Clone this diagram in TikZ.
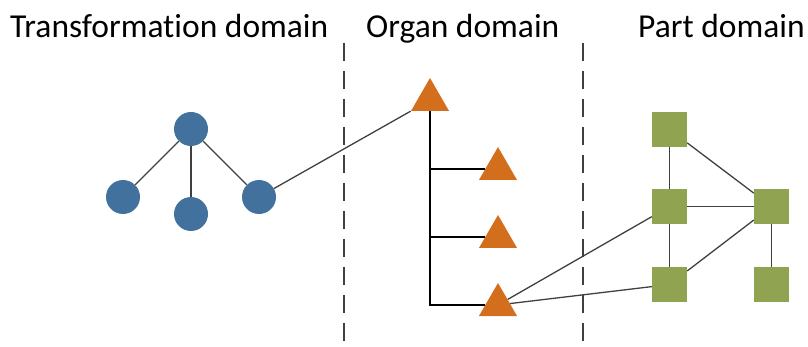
\documentclass[tikz,border=0pt]{standalone}
\usepackage{fontspec}
\setmainfont[Ligatures=NoCommon]{Carlito}
\usetikzlibrary{shapes.geometric}
\definecolor{tblue}{HTML}{41719C}
\definecolor{torange}{HTML}{D26E1C}
\definecolor{tgreen}{HTML}{90A350}
\definecolor{tline}{HTML}{404040}
\tikzset{
  circ/.style={circle,fill=tblue,draw=none,minimum size=34pt,inner sep=0},
  tri/.style={regular polygon,regular polygon sides=3,fill=torange,draw=none,minimum size=44pt,inner sep=0},
  sq/.style={rectangle,fill=tgreen,draw=none,minimum size=35pt,inner sep=0},
  link/.style={draw=tline,line width=1.3pt},
  tree/.style={draw=black,line width=1.5pt},
  divider/.style={draw=tline,line width=2.4pt,dash pattern=on 18pt off 10pt},
  title/.style={anchor=base west,inner sep=0,font=\fontsize{33.5}{40}\selectfont}
}
\begin{document}
\begin{tikzpicture}[x=1pt,y=-1pt]
\useasboundingbox (0,0) rectangle (808,347);

% domain titles
\node[title] (h1) at (10,37.7) {Transformation domain};
\node[title] (h2) at (366,37.7) {Organ domain};
\node[title] (h3) at (638,37.7) {Part domain};

% domain dividers
\coordinate (d1a) at (344,43);
\coordinate (d1b) at (344,347);
\coordinate (d2a) at (583,43);
\coordinate (d2b) at (583,347);
\draw[divider] (d1a) -- (d1b);
\draw[divider] (d2a) -- (d2b);

% transformation domain
\node[circ] (c0) at (191,129) {};
\node[circ] (c1) at (123,197) {};
\node[circ] (c2) at (191,214) {};
\node[circ] (c3) at (259,197) {};

% organ domain
\node[tri] (t0) at (430,100) {};
\node[tri] (t1) at (498,169) {};
\node[tri] (t2) at (498,237) {};
\node[tri] (t3) at (498,305) {};

% part domain
\node[sq] (p0) at (669.5,129.5) {};
\node[sq] (p1) at (669.5,206.5) {};
\node[sq] (p2) at (669.5,284.5) {};
\node[sq] (p3) at (771.5,206.5) {};
\node[sq] (p4) at (771.5,284.5) {};

% connectors
\path[link] (c0) -- (c1);
\path[link] (c0) -- (c2);
\path[link] (c0) -- (c3);
\path[link] (c3) -- (t0.corner 2);
\path[tree] (t0.south) |- (t3);
\path[tree] (t0.south |- t1) -- (t1);
\path[tree] (t0.south |- t2) -- (t2);
\path[link] (t3) -- (p1);
\path[link] (t3) -- (p2);
\path[link] (p0) -- (p1);
\path[link] (p0) -- (p3);
\path[link] (p1) -- (p3);
\path[link] (p1) -- (p2);
\path[link] (p2) -- (p3);
\path[link] (p3) -- (p4);
\end{tikzpicture}
\end{document}
